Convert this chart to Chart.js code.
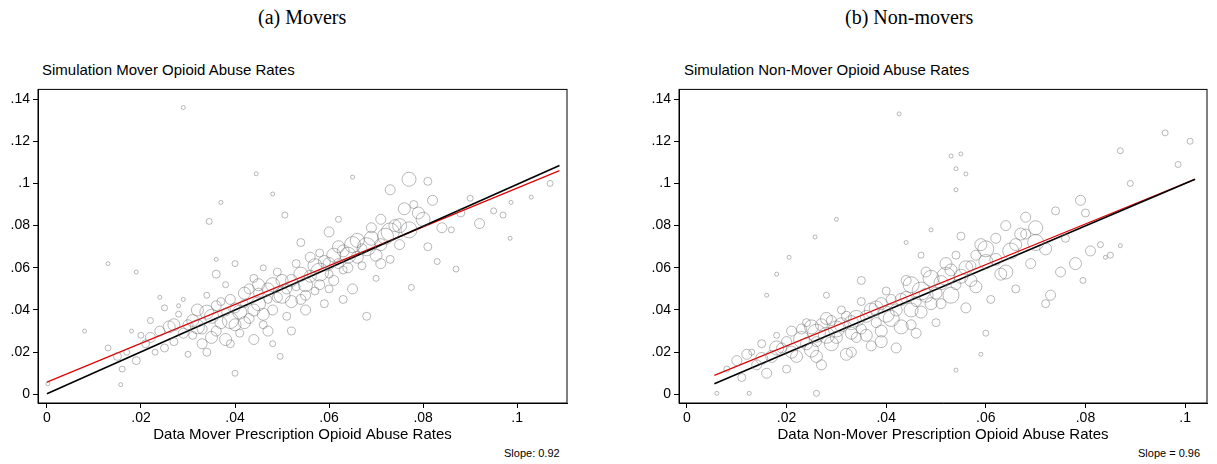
<!DOCTYPE html>
<html><head><meta charset="utf-8">
<script src="https://cdn.jsdelivr.net/npm/chart.js@4"></script>
<style>
body{margin:0;width:1217px;height:464px;background:#fff;position:relative;overflow:hidden;font-family:"Liberation Sans",Arial,sans-serif}
.t{position:absolute;font-family:"Liberation Serif",serif;font-size:20px;color:#000}
.s{position:absolute;font-size:15px;color:#000}
.sl{position:absolute;font-size:11px;color:#000}
canvas{position:absolute}
</style></head><body>
<div class="t" style="left:258px;top:6px">(a) Movers</div>
<div class="t" style="left:845px;top:6px">(b) Non-movers</div>
<div class="s" style="left:42px;top:61px">Simulation Mover Opioid Abuse Rates</div>
<div class="s" style="left:684px;top:61px">Simulation Non-Mover Opioid Abuse Rates</div>
<div class="sl" style="left:504px;top:447px">Slope: 0.92</div>
<div class="sl" style="left:1138px;top:447px">Slope = 0.96</div>
<div id="w1" style="position:absolute;left:0;top:78px;width:590px;height:370px"><canvas id="c1"></canvas></div>
<div id="w2" style="position:absolute;left:641px;top:78px;width:576px;height:370px"><canvas id="c2"></canvas></div>
<script>
// Movers: [x, y, r]
const moverPoints = [
[0.029,0.136,2],[0.0445,0.1046,2],[0.065,0.103,2],[0.048,0.095,2],[0.037,0.091,2],[0.0345,0.082,3],[0.0506,0.085,3],
[0.107,0.100,3],[0.103,0.0935,2],[0.0987,0.091,2],[0.097,0.085,3],[0.0985,0.074,2],[0.087,0.0594,3],[0.0775,0.0507,3],
[0.068,0.037,4],[0.040,0.010,3],[0.0496,0.018,3],[0.0157,0.0046,2],[0.013,0.062,2],[0.008,0.030,2],[0.0002,0.005,2],
[0.013,0.022,3],[0.015,0.018,4],[0.016,0.012,3],[0.017,0.020,3],[0.018,0.030,2],[0.020,0.028,3],[0.021,0.024,4],[0.022,0.035,3],
[0.023,0.020,3],[0.024,0.030,5],[0.025,0.041,3],[0.026,0.032,6],[0.027,0.025,4],[0.028,0.038,3],[0.029,0.045,2],[0.030,0.033,5],
[0.031,0.028,4],[0.032,0.040,6],[0.033,0.024,5],[0.034,0.047,3],[0.035,0.037,7],[0.036,0.030,5],[0.037,0.044,4],[0.038,0.026,6],
[0.038,0.052,3],[0.039,0.035,8],[0.040,0.041,5],[0.041,0.029,4],[0.042,0.048,6],[0.043,0.036,5],[0.044,0.055,4],[0.045,0.043,7],
[0.046,0.033,4],[0.047,0.050,6],[0.048,0.040,5],[0.049,0.058,4],[0.050,0.047,8],[0.051,0.037,4],[0.052,0.054,6],[0.053,0.062,4],
[0.054,0.045,5],[0.055,0.052,7],[0.056,0.065,5],[0.057,0.049,4],[0.058,0.058,9],[0.059,0.043,4],[0.060,0.062,6],[0.061,0.054,5],
[0.062,0.070,6],[0.063,0.059,4],[0.064,0.066,8],[0.065,0.050,5],[0.066,0.073,7],[0.067,0.061,4],[0.068,0.070,9],[0.069,0.079,5],
[0.070,0.066,6],[0.071,0.083,5],[0.072,0.075,8],[0.073,0.064,4],[0.074,0.080,6],[0.075,0.071,5],[0.076,0.088,6],[0.077,0.078,8],
[0.078,0.090,4],[0.080,0.083,7],[0.081,0.070,4],[0.082,0.092,5],[0.084,0.079,5],[0.086,0.078,3],[0.088,0.086,4],[0.090,0.093,3],
[0.092,0.081,5],[0.095,0.087,3],[0.081,0.101,4],[0.077,0.102,7],[0.073,0.097,5],[0.062,0.083,3],[0.058,0.067,4],[0.046,0.060,3],
[0.036,0.057,4],[0.028,0.042,2],[0.024,0.046,2],[0.019,0.058,2],[0.042,0.034,6],[0.044,0.026,5],[0.052,0.030,4],[0.055,0.040,5],
[0.048,0.024,3],[0.034,0.020,4],[0.030,0.019,3],[0.063,0.045,4],[0.070,0.055,3],[0.083,0.063,3],[0.060,0.077,5],[0.054,0.072,4],
[0.040,0.062,3],[0.036,0.064,2],
[0.019,0.016,4],[0.022,0.027,5],[0.025,0.022,4],[0.027,0.033,6],[0.029,0.029,5],[0.031,0.035,6],[0.033,0.031,5],[0.034,0.039,7],
[0.035,0.027,6],[0.036,0.042,5],[0.037,0.034,6],[0.038,0.039,4],[0.039,0.045,5],[0.040,0.033,6],[0.041,0.039,7],[0.042,0.043,4],
[0.043,0.050,5],[0.044,0.040,6],[0.045,0.048,5],[0.046,0.038,6],[0.047,0.045,4],[0.048,0.052,7],[0.049,0.046,5],[0.050,0.054,6],
[0.051,0.050,5],[0.052,0.044,6],[0.053,0.051,4],[0.054,0.057,7],[0.055,0.047,5],[0.056,0.056,6],[0.057,0.061,7],[0.058,0.052,5],
[0.059,0.063,6],[0.060,0.057,4],[0.061,0.066,7],[0.062,0.062,5],[0.063,0.068,6],[0.064,0.060,5],[0.065,0.071,8],[0.066,0.065,6],
[0.067,0.069,5],[0.069,0.074,7],[0.071,0.071,6],[0.073,0.077,9],[0.075,0.080,7],[0.079,0.086,6],[0.071,0.062,5],[0.060,0.050,4],
[0.045,0.052,6],[0.039,0.024,4],[0.047,0.030,5],[0.032,0.032,7]
];
// Non-movers: [x, y, r]
const nonMoverPoints = [
[0.0426,0.133,2],[0.096,0.124,3],[0.101,0.120,3],[0.087,0.1155,3],[0.0986,0.109,3],[0.053,0.113,2],[0.055,0.114,2],[0.054,0.107,2],
[0.056,0.1045,2],[0.089,0.100,3],[0.054,0.097,2],[0.030,0.083,2],[0.0257,0.0746,2],[0.084,0.065,2],[0.087,0.0705,2],[0.059,0.019,2],
[0.054,0.0115,2],[0.026,0.0005,3],[0.006,0.0005,2],[0.0125,0.0005,2],[0.016,0.047,2],[0.018,0.057,2],[0.0205,0.065,2],[0.072,0.043,4],[0.0795,0.054,3],
[0.008,0.012,3],[0.010,0.016,5],[0.011,0.008,4],[0.013,0.020,3],[0.014,0.014,5],[0.015,0.024,4],[0.016,0.010,5],[0.017,0.018,6],
[0.018,0.028,3],[0.019,0.022,5],[0.020,0.012,4],[0.021,0.030,5],[0.022,0.018,6],[0.023,0.026,8],[0.024,0.034,4],[0.025,0.021,7],
[0.026,0.029,9],[0.027,0.014,5],[0.028,0.036,6],[0.029,0.024,7],[0.030,0.031,8],[0.031,0.040,4],[0.032,0.019,6],[0.033,0.034,7],
[0.034,0.027,5],[0.035,0.044,4],[0.036,0.037,6],[0.037,0.023,5],[0.038,0.041,7],[0.039,0.030,6],[0.040,0.049,4],[0.041,0.036,8],
[0.042,0.022,5],[0.043,0.045,6],[0.044,0.054,5],[0.045,0.040,7],[0.046,0.029,5],[0.047,0.049,9],[0.048,0.058,5],[0.049,0.043,6],
[0.050,0.034,4],[0.051,0.053,7],[0.052,0.062,6],[0.053,0.047,8],[0.054,0.066,4],[0.055,0.056,7],[0.056,0.041,5],[0.057,0.061,5],
[0.058,0.051,6],[0.059,0.071,6],[0.060,0.063,7],[0.061,0.045,4],[0.062,0.074,5],[0.063,0.057,6],[0.064,0.080,5],[0.065,0.068,8],
[0.066,0.050,4],[0.067,0.076,6],[0.068,0.084,5],[0.069,0.062,5],[0.070,0.079,7],[0.072,0.069,6],[0.073,0.047,5],[0.074,0.087,4],
[0.075,0.058,5],[0.076,0.074,4],[0.078,0.062,6],[0.079,0.092,5],[0.080,0.086,4],[0.081,0.068,5],[0.083,0.071,3],[0.085,0.066,3],
[0.055,0.075,4],[0.047,0.066,3],[0.035,0.054,4],[0.028,0.047,3],[0.044,0.072,2],[0.049,0.078,2],[0.060,0.029,3],
[0.012,0.019,5],[0.015,0.017,6],[0.018,0.022,7],[0.020,0.025,5],[0.021,0.020,6],[0.023,0.031,5],[0.024,0.024,6],[0.025,0.032,7],
[0.026,0.025,5],[0.027,0.033,6],[0.028,0.028,8],[0.029,0.035,5],[0.030,0.027,6],[0.031,0.033,7],[0.032,0.037,5],[0.033,0.029,6],
[0.034,0.036,8],[0.035,0.031,5],[0.036,0.028,6],[0.037,0.040,7],[0.038,0.034,5],[0.039,0.043,6],[0.040,0.038,8],[0.041,0.045,5],
[0.042,0.040,6],[0.043,0.032,7],[0.044,0.046,6],[0.045,0.052,8],[0.046,0.044,5],[0.047,0.039,6],[0.048,0.047,7],[0.049,0.055,8],
[0.050,0.048,6],[0.051,0.043,5],[0.052,0.056,9],[0.053,0.059,6],[0.054,0.052,5],[0.056,0.060,7],[0.057,0.054,6],[0.058,0.066,5],
[0.060,0.069,8],[0.062,0.064,6],[0.064,0.058,7],[0.066,0.071,6],[0.068,0.076,5],[0.070,0.072,8],[0.033,0.020,5],[0.039,0.025,6],
[0.045,0.033,5],[0.026,0.018,6]
];
// fitted (red) and 45-degree (black) line endpoints
const moverFit = [[0, 0.0058], [0.109, 0.1061]];
const moverDiag = [[0, 0.0003], [0.109, 0.1085]];
const nonMoverFit = [[0.0055, 0.0090], [0.102, 0.1020]];
const nonMoverDiag = [[0.0055, 0.0050], [0.102, 0.1020]];
const yTicks = [0, 0.02, 0.04, 0.06, 0.08, 0.1, 0.12, 0.14];

function fmt(v) {
  const n = +v.toFixed(2);
  return n === 0 ? '0' : String(n).replace(/^0\./, '.');
}

const boxPlugin = {
  id: 'box',
  afterDraw(chart) {
    const a = chart.chartArea, c = chart.ctx;
    c.save(); c.strokeStyle = '#000'; c.lineWidth = 1;
    c.strokeRect(a.left, a.top, a.right - a.left, a.bottom - a.top);
    c.restore();
  }
};

function makeChart(id, pts, fit, diag, xmin, xmax, xTitle, padRight) {
  new Chart(document.getElementById(id), {
    type: 'bubble',
    data: {
      datasets: [
        { data: pts.map(p => ({ x: p[0], y: p[1], r: p[2] })),
          backgroundColor: 'rgba(0,0,0,0)', borderColor: 'rgba(100,100,100,0.45)', borderWidth: 1 },
        { type: 'scatter', data: diag.map(p => ({ x: p[0], y: p[1] })), showLine: true,
          borderColor: '#000', borderWidth: 1.6, pointRadius: 0 },
        { type: 'scatter', data: fit.map(p => ({ x: p[0], y: p[1] })), showLine: true,
          borderColor: '#e00000', borderWidth: 1.2, pointRadius: 0 }
      ]
    },
    options: {
      responsive: true, maintainAspectRatio: false, animation: false,
      layout: { padding: { top: 2, right: padRight } },
      plugins: { legend: { display: false }, tooltip: { enabled: false } },
      scales: {
        x: {
          type: 'linear', min: xmin, max: xmax,
          afterFit: s => { s.height = 45; },
          ticks: { stepSize: 0.02, includeBounds: false, color: '#000', font: { size: 14 }, padding: 2, callback: fmt, maxRotation: 0 },
          grid: { drawOnChartArea: false, tickLength: 5, color: '#000' },
          border: { color: '#000' },
          title: { display: true, text: xTitle, color: '#000', font: { size: 15 }, padding: { top: 0 } }
        },
        y: {
          min: -0.0041, max: 0.1446,
          afterFit: s => { s.width = 38; },
          afterBuildTicks: s => { s.ticks = yTicks.map(v => ({ value: v })); },
          ticks: { color: '#000', font: { size: 14 }, padding: 3, callback: fmt },
          grid: { drawOnChartArea: false, tickLength: 5, color: '#000' },
          border: { color: '#000' }
        }
      }
    },
    plugins: [boxPlugin]
  });
}

makeChart('c1', moverPoints, moverFit, moverDiag, -0.0019, 0.1106, 'Data Mover Prescription Opioid Abuse Rates', 23);
makeChart('c2', nonMoverPoints, nonMoverFit, nonMoverDiag, -0.0016, 0.1044, 'Data Non-Mover Prescription Opioid Abuse Rates', 9);
</script>
</body></html>
